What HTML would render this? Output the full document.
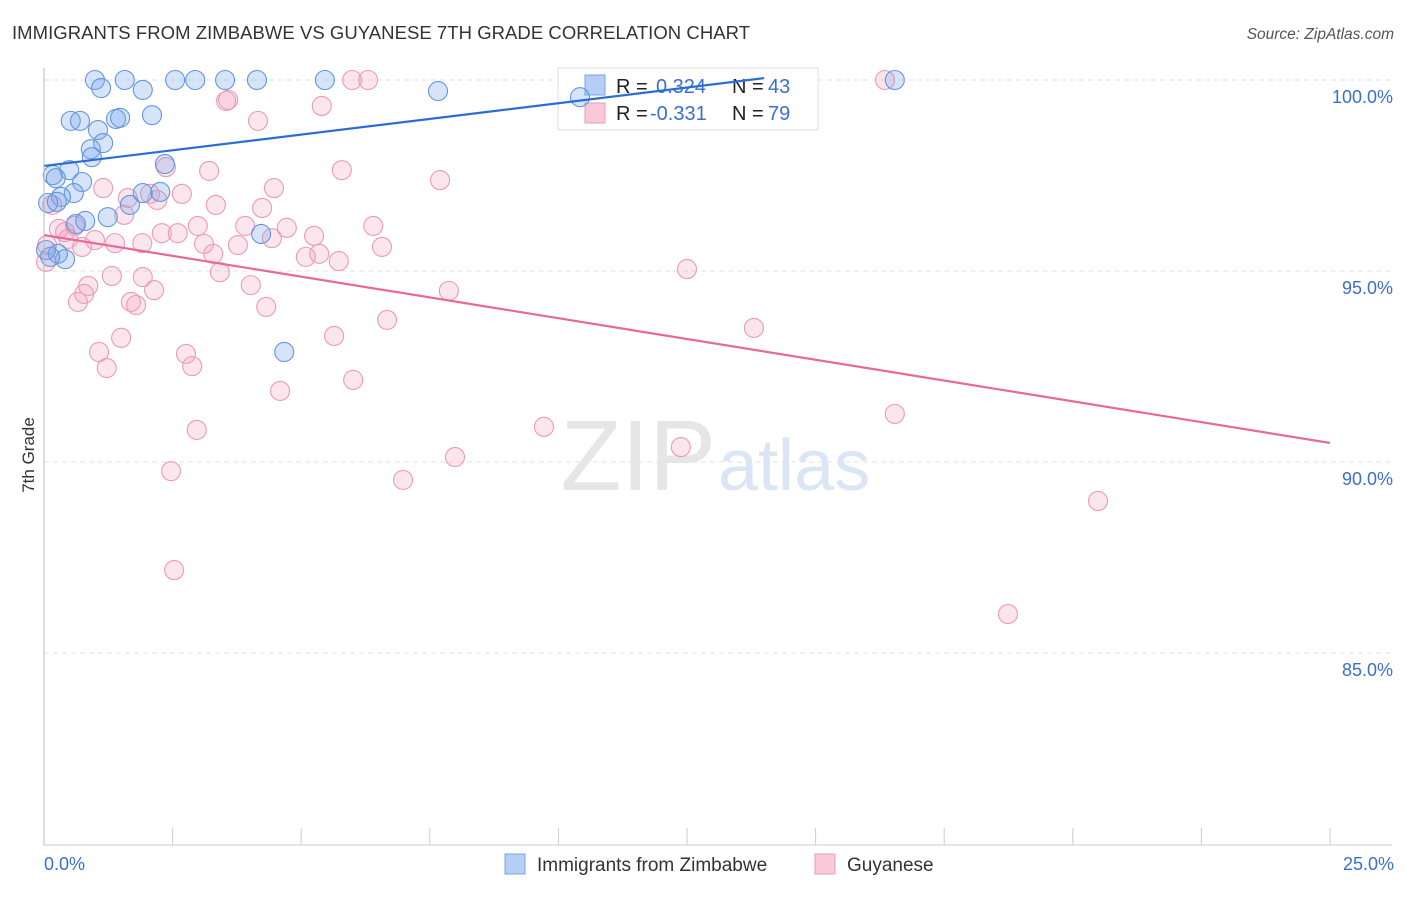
<!DOCTYPE html>
<html><head><meta charset="utf-8"><style>
body{margin:0;background:#fff;font-family:"Liberation Sans",sans-serif}
svg text{font-family:"Liberation Sans",sans-serif}
</style></head><body>
<svg id="c" width="1406" height="892">
<text x="12" y="39" font-size="18.5" fill="#333" textLength="738">IMMIGRANTS FROM ZIMBABWE VS GUYANESE 7TH GRADE CORRELATION CHART</text>
<text x="1394" y="39" font-size="15.5" fill="#555" text-anchor="end" font-style="italic">Source: ZipAtlas.com</text>
<text x="716" y="490" font-size="100" fill="#e6e6e6" text-anchor="end" font-family="Liberation Serif">ZIP</text>
<text x="718" y="490" font-size="72" fill="#dae6f5">atlas</text>
<text transform="translate(34,455) rotate(-90)" font-size="17" fill="#333" text-anchor="middle">7th Grade</text>
<g id="grid"></g>
<g>
<rect x="558" y="68" width="260" height="62" fill="#fff" fill-opacity="0.85" stroke="#ddd"/>
<rect x="585" y="75" width="20" height="20" fill="#b5cff3" stroke="#7aa4e2"/>
<rect x="585" y="103" width="20" height="20" fill="#f9c9d7" stroke="#eb9ab5"/>
<text x="616" y="93" font-size="20" fill="#222">R = </text><text x="656" y="93" font-size="20" fill="#3a6fd0">0.324</text>
<text x="732" y="93" font-size="20" fill="#222">N = </text><text x="768" y="93" font-size="20" fill="#3a6fd0">43</text>
<text x="616" y="120" font-size="20" fill="#222">R = </text><text x="650" y="120" font-size="20" fill="#3a6fd0">-0.331</text>
<text x="732" y="120" font-size="20" fill="#222">N = </text><text x="768" y="120" font-size="20" fill="#3a6fd0">79</text>
</g>
<g id="pts"></g><g id="lines"></g>
<line x1="44" y1="68" x2="44" y2="845" stroke="#bbb"/>
<line x1="44" y1="845" x2="1392" y2="845" stroke="#ccc"/>
<text x="44" y="870" font-size="18" fill="#3a6fd0">0.0%</text>
<text x="1394" y="870" font-size="18" fill="#3a6fd0" text-anchor="end">25.0%</text>
<g>
<rect x="505" y="854" width="20" height="20" fill="#b5cff3" stroke="#7aa4e2"/>
<text x="537" y="871" font-size="19" fill="#333">Immigrants from Zimbabwe</text>
<rect x="815" y="854" width="20" height="20" fill="#f9c9d7" stroke="#eb9ab5"/>
<text x="847" y="871" font-size="19" fill="#333">Guyanese</text>
</g>
</svg>
<script>
const yTicks=[100,95,90,85];
const xTickVals=[0,2.5,5,7.5,10,12.5,15,17.5,20,22.5,25];
const blueX=[0.99,1.57,2.55,2.94,3.52,4.14,5.46,16.54,1.11,1.92,7.66,10.42,2.10,0.52,0.70,1.40,1.48,1.05,1.15,0.91,0.93,2.35,0.49,0.17,0.23,0.74,1.92,2.26,0.58,0.33,0.08,0.25,1.67,1.24,0.80,0.62,4.22,0.41,0.27,4.67,0.12,0.04];
const blueY=[100,100,100,100,100,100,100,100,99.79,99.74,99.71,99.55,99.08,98.93,98.93,98.98,99.01,98.69,98.35,98.19,97.98,97.80,97.64,97.51,97.43,97.33,97.04,97.07,97.04,96.94,96.78,96.81,96.73,96.41,96.31,96.23,95.97,95.31,95.45,92.88,95.37,95.55];
const pinkX=[5.99,6.30,16.35,3.58,3.54,5.40,4.16,5.79,3.21,2.37,7.70,1.15,4.47,2.68,2.06,1.63,2.20,3.34,4.24,1.56,6.40,3.91,2.99,4.72,0.29,0.60,0.41,2.29,2.60,5.25,4.43,0.99,0.47,1.38,1.91,3.11,3.77,6.57,0.74,3.29,5.09,5.35,5.73,12.50,3.42,1.32,1.92,4.02,0.86,2.14,7.87,0.78,0.66,1.69,1.79,4.32,6.67,13.80,5.64,1.50,1.07,2.76,1.22,2.88,6.01,4.59,16.54,9.72,2.97,7.99,12.38,2.47,6.98,20.49,2.53,18.74,0.04,0.06,0.16];
const pinkY=[100,100,100,99.48,99.45,99.32,98.93,97.64,97.62,97.72,97.38,97.17,97.17,97.02,97.02,96.91,96.86,96.73,96.65,96.47,96.18,96.18,96.18,96.13,96.10,96.18,96.02,95.99,95.99,95.92,95.86,95.81,95.84,95.73,95.73,95.71,95.68,95.63,95.63,95.45,95.37,95.45,95.26,95.05,94.97,94.87,94.84,94.63,94.61,94.50,94.48,94.40,94.19,94.19,94.11,94.06,93.72,93.51,93.30,93.25,92.88,92.83,92.46,92.51,92.15,91.86,91.26,90.92,90.84,90.13,90.39,89.76,89.53,88.98,87.17,86.02,95.24,95.68,96.73];
const blueTrend=[[0,97.75],[14.0,100.05]];
const pinkTrend=[[0,95.94],[25,90.5]];
const X=v=>44+v*51.44, Y=v=>80+(100-v)*38.2;
const NS='http://www.w3.org/2000/svg';
function mk(t,a,p){const e=document.createElementNS(NS,t);for(const k in a)e.setAttribute(k,a[k]);p.appendChild(e);return e;}
const grid=document.getElementById('grid'),pts=document.getElementById('pts'),lines=document.getElementById('lines');
yTicks.forEach(v=>{
 const l=mk('line',{x1:44,x2:1392,y1:Y(v),y2:Y(v),stroke:'#e2e2e2','stroke-dasharray':'5,4'},grid);
 
 
 const t=mk('text',{x:1393,y:Y(v)+23,'font-size':18,fill:'#3a6fd0','text-anchor':'end'},grid);
 t.textContent=v.toFixed(1)+'%';
 
 
});
xTickVals.forEach(v=>{
 const l=mk('line',{x1:X(v),x2:X(v),y1:828,y2:845,stroke:'#ccc'},grid);
 
 
});
pinkX.forEach((v,i)=>{
 const c=mk('circle',{cx:X(v),cy:Y(pinkY[i]),r:9.5,fill:'rgba(244,160,188,0.26)',stroke:'#ec9ab5','stroke-width':1.1},pts);
 
 
});
blueX.forEach((v,i)=>{
 const c=mk('circle',{cx:X(v),cy:Y(blueY[i]),r:9.5,fill:'rgba(120,165,235,0.3)',stroke:'#6496dc','stroke-width':1.1},pts);
 
 
});
const bl=mk('line',{x1:X(blueTrend[0][0]),y1:Y(blueTrend[0][1]),x2:X(blueTrend[1][0]),y2:Y(blueTrend[1][1]),stroke:'#2a6dd6','stroke-width':2.2},lines);


const pl=mk('line',{x1:X(pinkTrend[0][0]),y1:Y(pinkTrend[0][1]),x2:X(pinkTrend[1][0]),y2:Y(pinkTrend[1][1]),stroke:'#e8689a','stroke-width':2.2},lines);


</script>
</body></html>
